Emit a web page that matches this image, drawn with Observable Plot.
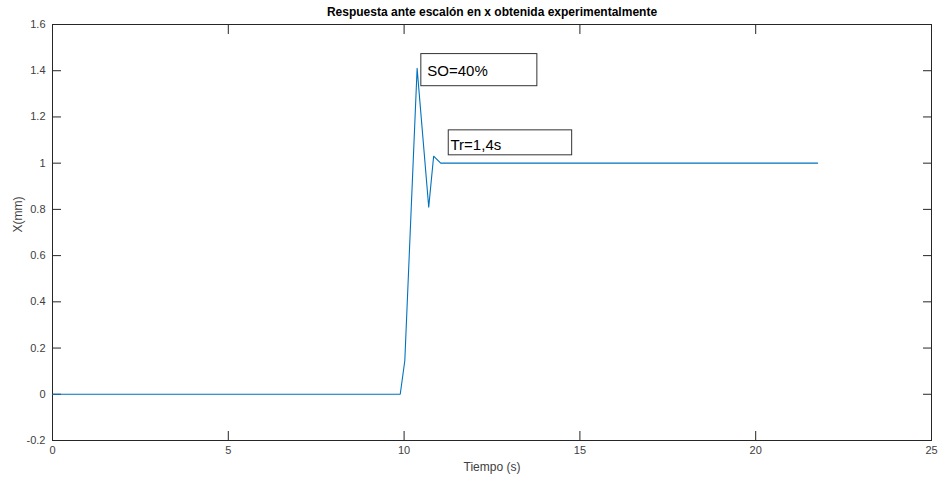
<!DOCTYPE html>
<html>
<head>
<meta charset="utf-8">
<script src="https://cdn.jsdelivr.net/npm/d3@7"></script>
<script src="https://cdn.jsdelivr.net/npm/@observablehq/plot@0.6"></script>
<style>
  html, body { margin: 0; padding: 0; background: #ffffff; }
  #chart svg { display: block; }
</style>
</head>
<body>
<div id="chart"></div>
<script>
// Experimental step response of the x displacement
const tiempo = [0, 9.89, 10.02, 10.37, 10.70, 10.84, 11.04, 21.76];
const posicion = [0, 0, 0.145, 1.41, 0.81, 1.03, 1.0, 1.0];

// Axis ticks
const xTicks = [0, 5, 10, 15, 20, 25];
const yTicks = [-0.2, 0, 0.2, 0.4, 0.6, 0.8, 1, 1.2, 1.4, 1.6];

// Text boxes (data coordinates of box corners and text anchor)
const notaTexto = ["SO=40%", "Tr=1,4s"];
const notaX1 = [10.49, 11.27];
const notaX2 = [13.79, 14.78];
const notaY1 = [1.333, 1.034];
const notaY2 = [1.472, 1.142];
const notaTx = [10.66, 11.32];
const notaTy = [1.400, 1.078];

const titulo = "Respuesta ante escalón en x obtenida experimentalmente";
const etiquetaX = "Tiempo (s)";
const etiquetaY = "X(mm)";

const serie = tiempo.map((t, i) => ({t, x: posicion[i]}));
const notas = notaTexto.map((texto, i) => ({
  texto, x1: notaX1[i], x2: notaX2[i], y1: notaY1[i], y2: notaY2[i], tx: notaTx[i], ty: notaTy[i]
}));

const axisColor = "#262626";
const labelColor = "#404040";
const fmt = d => String(+d.toFixed(1));

const chart = Plot.plot({
  width: 938,
  height: 479,
  marginLeft: 52,
  marginRight: 7,
  marginTop: 24,
  marginBottom: 39,
  style: {fontFamily: "'Liberation Sans', Arial, sans-serif", fontSize: "11px", background: "#ffffff"},
  x: {domain: [0, 25]},
  y: {domain: [-0.2, 1.6]},
  marks: [
    // tick labels
    Plot.axisX(xTicks, {anchor: "bottom", tickSize: 0, tickPadding: 6, tickFormat: fmt, label: null, fill: labelColor}),
    Plot.axisY(yTicks, {anchor: "left", tickSize: 0, tickPadding: 7, tickFormat: fmt, label: null, fill: labelColor}),
    // inward tick marks on all four sides
    Plot.axisX(xTicks, {anchor: "bottom", tickSize: -9, tickFormat: () => "", label: null, stroke: axisColor}),
    Plot.axisX(xTicks, {anchor: "top", tickSize: -9, tickFormat: () => "", label: null, stroke: axisColor}),
    Plot.axisY(yTicks, {anchor: "left", tickSize: -9, tickFormat: () => "", label: null, stroke: axisColor}),
    Plot.axisY(yTicks, {anchor: "right", tickSize: -9, tickFormat: () => "", label: null, stroke: axisColor}),
    Plot.frame({stroke: axisColor}),
    // response curve
    Plot.line(serie, {x: "t", y: "x", stroke: "#0072BD", strokeWidth: 1.1}),
    // annotation text boxes
    Plot.rect(notas, {x1: "x1", x2: "x2", y1: "y1", y2: "y2", fill: "none", stroke: "#333333", strokeWidth: 1}),
    Plot.text(notas, {x: "tx", y: "ty", text: "texto", textAnchor: "start", lineAnchor: "middle", fontSize: 15, fill: "#000000"}),
    // title and axis labels
    Plot.text([titulo], {frameAnchor: "top", dy: -12, text: d => d, fontWeight: "bold", fontSize: 12, fill: "#000000", lineAnchor: "middle"}),
    Plot.text([etiquetaX], {frameAnchor: "bottom", dy: 27, text: d => d, fontSize: 12, fill: labelColor, lineAnchor: "middle"}),
    Plot.text([etiquetaY], {frameAnchor: "left", dx: -34, rotate: -90, text: d => d, fontSize: 12, fill: labelColor, lineAnchor: "middle"})
  ]
});

document.getElementById("chart").appendChild(chart);
</script>
</body>
</html>
